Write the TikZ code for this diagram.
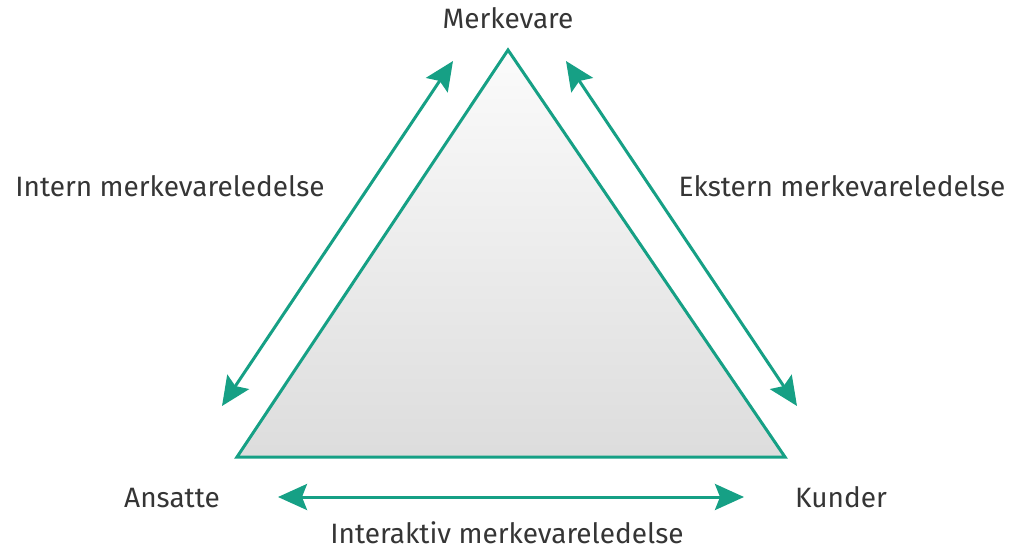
\documentclass[tikz,border=0pt]{standalone}
\usepackage{fontspec}
\setmainfont{Fira Sans}
\usetikzlibrary{arrows.meta}
\definecolor{brandgreen}{HTML}{16A085}
\definecolor{labelgray}{HTML}{353535}
\begin{document}
\begin{tikzpicture}[x=1pt,y=-1pt,
  lbl/.style={text=labelgray,font=\fontsize{28}{32}\selectfont,inner sep=0pt,anchor=base},
  link/.style={draw=brandgreen,line width=3pt,
    {Stealth[length=29pt,width=26pt,inset=5pt]}-{Stealth[length=29pt,width=26pt,inset=5pt]}}]
\useasboundingbox (0,0) rectangle (1015,549);

% corners of the triangle
\coordinate (top) at (508,50);
\coordinate (bl) at (237,457);
\coordinate (br) at (785,457);

\path[top color=gray!3,bottom color=gray!27] (top) -- (br) -- (bl) -- cycle;
\draw[brandgreen,line width=3pt,line join=miter] (top) -- (br) -- (bl) -- cycle;

% arrow end points
\coordinate (la) at (222,406);
\coordinate (lb) at (453,61);
\coordinate (ra) at (566,61);
\coordinate (rb) at (797,406);
\coordinate (ba) at (278,497);
\coordinate (bb) at (744,497);

\draw[link] (la) -- (lb);
\draw[link] (ra) -- (rb);
\draw[link] (ba) -- (bb);

% labels
\node[lbl] (merk) at (508,28) {Merkevare};
\node[lbl] (intern) at (170,196) {Intern merkevareledelse};
\node[lbl] (ekstern) at (842,196) {Ekstern merkevareledelse};
\node[lbl] (ansatte) at (172,507) {Ansatte};
\node[lbl] (kunder) at (841,507) {Kunder};
\node[lbl] (inter) at (507,543) {Interaktiv merkevareledelse};
\end{tikzpicture}
\end{document}
